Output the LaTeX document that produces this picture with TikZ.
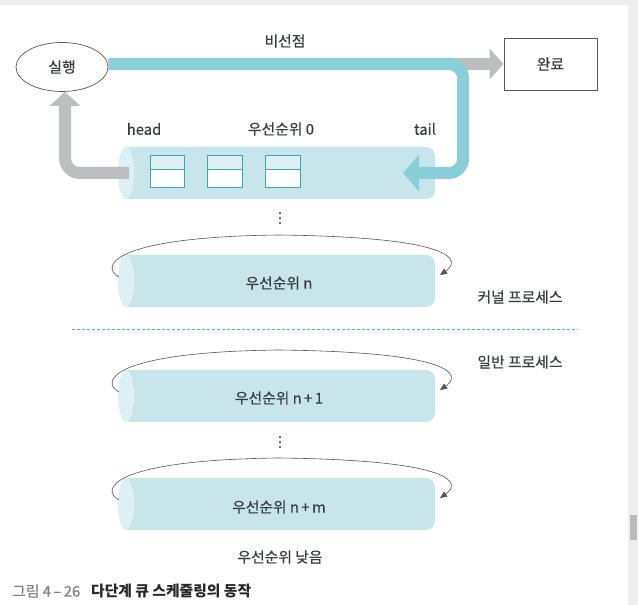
\documentclass[tikz,border=0pt]{standalone}
\usepackage{fontspec}
\setmainfont{Noto Sans CJK KR}
\newfontfamily\lblfont{Noto Sans CJK KR}[FakeBold=0.35]
\usetikzlibrary{arrows.meta,shapes.geometric}
\definecolor{cyanarr}{HTML}{88CFD9}
\definecolor{graya}{HTML}{BDBEC2}
\definecolor{cylbody}{HTML}{C8E5EC}
\definecolor{cylend}{HTML}{DDF0F4}
\definecolor{boxline}{HTML}{3AA7AB}
\definecolor{boxtop}{HTML}{DDEFF3}
\definecolor{txt}{HTML}{383C40}
\definecolor{dashc}{HTML}{4FB4C8}
\definecolor{framec}{HTML}{EEEEEE}
\definecolor{loopc}{HTML}{555555}
\tikzset{
  lbl/.style={text=txt,font=\lblfont\fontsize{14.8}{17}\selectfont,inner sep=0pt},
  cyanarrow/.style={draw=cyanarr,line width=12pt,rounded corners=14pt,-{Triangle[width=36pt,length=16pt]}},
  grayarrow/.style={draw=graya,line width=12pt,rounded corners=15pt,-{Triangle[width=30pt,length=14pt]}},
  looparrow/.style={draw=loopc,line width=0.6pt,-{Triangle[width=6pt,length=7pt]}},
  qbox/.style={draw=boxline,line width=1pt},
  dotc/.style={fill=txt},
}
\newcommand\qcyl[2]{%
  \fill[cylbody] (126,#2+26) -- (426,#2+26) arc[start angle=90,end angle=0,radius=9]
     -- (435,#2-17) arc[start angle=0,end angle=-90,radius=9] -- (126,#2-26) -- cycle;
  \fill[cylend] (126,#2) ellipse[x radius=8,y radius=26];
  \coordinate (#1) at (280,#2);
}
\newcommand\qloop[1]{%
  \draw[looparrow] (119,#1+4) .. controls (100,#1+14) and (110,#1+44) .. (278,#1+46)
     .. controls (455,#1+44) and (462,#1+21) .. (440,#1+6);
}
\newcommand\qsmall[2]{%
  \fill[white] (#1,417) rectangle (#2,449);
  \fill[boxtop] (#1,435.7) rectangle (#2,449);
  \draw[qbox] (#1,417) rectangle (#2,449);
  \draw[qbox] (#1,435.7) -- (#2,435.7);
}
\newcommand\qdots[1]{%
  \fill[dotc] (280,#1+5) circle[radius=1.2];
  \fill[dotc] (280,#1) circle[radius=1.2];
  \fill[dotc] (280,#1-5) circle[radius=1.2];
}
\begin{document}
\begin{tikzpicture}[x=1pt,y=1pt]
\useasboundingbox (0,0) rectangle (638,605);
\fill[white] (0,0) rectangle (638,605);
\fill[framec] (0,600) rectangle (638,605);
\fill[framec] (628,0) rectangle (638,605);
\fill[black!27] (630,65) rectangle (637,90);

% queues
\qcyl{q0}{432}
\qcyl{qn}{324}
\qcyl{qn1}{209}
\qcyl{qnm}{101}
\qsmall{150}{184}
\qsmall{207}{242}
\qsmall{265}{300}

% loops
\qloop{324}
\qloop{209}
\qloop{101}

% dots
\qdots{387}
\qdots{163}

% nodes
\node[lbl,ellipse,draw=loopc,line width=0.7pt,minimum width=92pt,minimum height=49pt] (exec) at (62,538) {실행};
\node[lbl,draw=loopc,line width=0.7pt,minimum width=93pt,minimum height=52pt] (done) at (550.5,541) {완료};
\node[lbl] (nonpre) at (285,564) {비선점};
\node[lbl] (head) at (144,476) {head};
\node[lbl] (p0) at (281,476) {우선순위 0};
\node[lbl] (tail) at (425,476) {tail};
\node[lbl] (tn) at (279,322) {우선순위 n};
\node[lbl] (kern) at (520,308) {커널 프로세스};
\node[lbl] (user) at (520,243) {일반 프로세스};
\node[lbl] (tn1) at (279,207) {우선순위 n\,+\,1};
\node[lbl] (tnm) at (279,98) {우선순위 n\,+\,m};
\node[lbl] (low) at (280,48) {우선순위 낮음};
\node[lbl,anchor=west,text=black!50] (capnum) at (12,14) {그림 4\,–\,26};
\node[lbl,anchor=west,font=\fontsize{14.8}{17}\selectfont\bfseries,text=black!85] (captitle) at (91,14) {다단계 큐 스케줄링의 동작};

% divider
\coordinate (dl) at (72,276);
\coordinate (dr) at (578,276);
\draw[dashc,line width=0.9pt,dash pattern=on 3pt off 2pt] (dl) -- (dr);

% arrows
\coordinate (split) at (450,541);
\coordinate (turn) at (463,432);
\coordinate (q0in) at (403,432);
\coordinate (q0cap) at (129,432);
\draw[grayarrow] (split) -- (done.west);
\draw[grayarrow] (q0cap) -| ([xshift=3pt]exec.south);
\draw[cyanarrow] ([yshift=3pt]exec.east) -- ([yshift=3pt]exec.east -| turn) |- (q0in);
\end{tikzpicture}
\end{document}
